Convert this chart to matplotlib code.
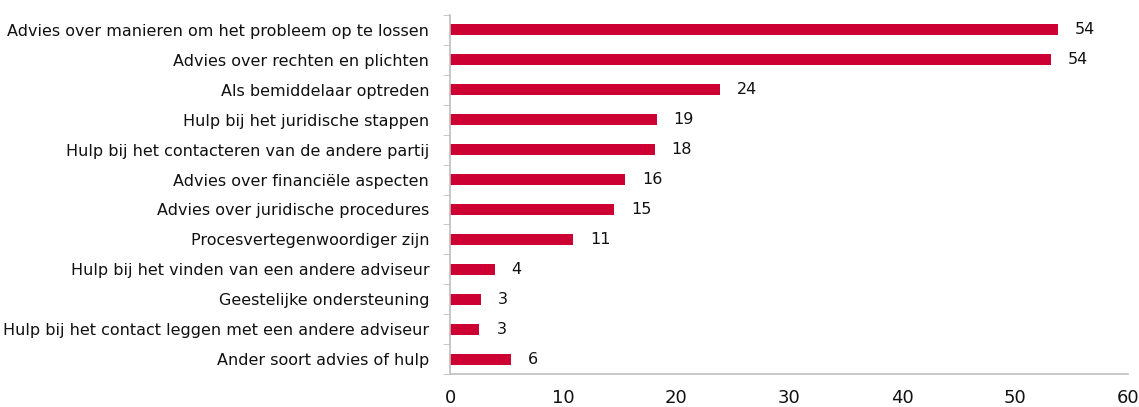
import matplotlib.pyplot as plt

categories = [
    "Advies over manieren om het probleem op te lossen",
    "Advies over rechten en plichten",
    "Als bemiddelaar optreden",
    "Hulp bij het juridische stappen",
    "Hulp bij het contacteren van de andere partij",
    "Advies over financiële aspecten",
    "Advies over juridische procedures",
    "Procesvertegenwoordiger zijn",
    "Hulp bij het vinden van een andere adviseur",
    "Geestelijke ondersteuning",
    "Hulp bij het contact leggen met een andere adviseur",
    "Ander soort advies of hulp",
]
values = [53.8, 53.2, 23.9, 18.3, 18.1, 15.5, 14.5, 10.9, 3.96, 2.7, 2.6, 5.4]
labels = ["54", "54", "24", "19", "18", "16", "15", "11", "4", "3", "3", "6"]
xticks = [0, 10, 20, 30, 40, 50, 60]

bar_color = "#CC0033"
axis_color = "#BFBFBF"

fig = plt.figure(figsize=(11.39, 4.07), dpi=100)
ax = fig.add_axes([450 / 1139, 1 - 374 / 407, (1128 - 450) / 1139, (374 - 15) / 407])

ypos = list(range(len(categories)))
ax.barh(ypos, values, height=0.37, color=bar_color)
for y, v, lab in zip(ypos, values, labels):
    ax.text(v + 1.5, y, lab, va="center", ha="left", fontsize=11.5, color="#111111")

ax.set_ylim(len(categories) - 0.5, -0.5)
ax.set_xlim(0, 60)
ax.set_xticks(xticks)
ax.set_xticklabels([str(t) for t in xticks], fontsize=13, color="#111111")
ax.set_yticks(ypos)
ax.set_yticklabels(categories, fontsize=11.5, color="#111111")
ax.tick_params(axis="y", length=0, pad=15)
ax.tick_params(axis="x", length=0, pad=11)
# category separator ticks on the left spine
ax.set_yticks([y + 0.5 for y in range(-1, len(categories))], minor=True)
ax.tick_params(axis="y", which="minor", length=5, color=axis_color, direction="out")

for side in ["top", "right"]:
    ax.spines[side].set_visible(False)
for side in ["left", "bottom"]:
    ax.spines[side].set_color(axis_color)
    ax.spines[side].set_linewidth(1.2)

fig.savefig("out.png", dpi=100)
